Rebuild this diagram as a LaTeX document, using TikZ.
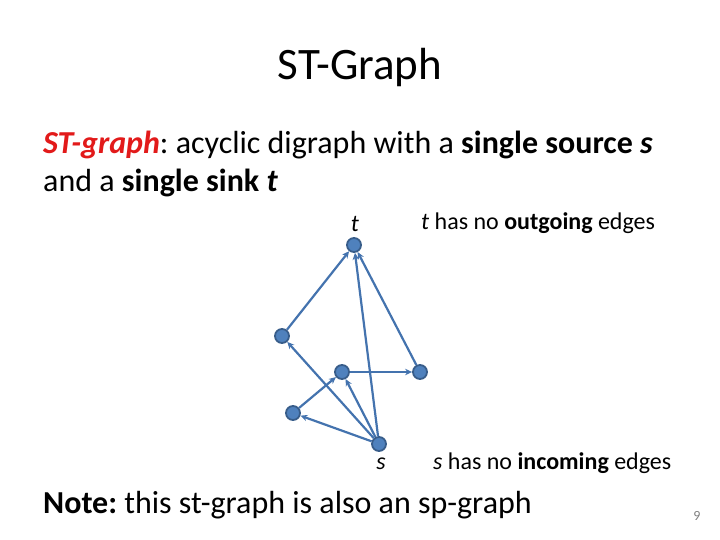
\documentclass[tikz,border=0pt]{standalone}
\usepackage{fontspec}
\setmainfont{Carlito}
\usetikzlibrary{arrows.meta}
\frenchspacing
\definecolor{nodefill}{HTML}{4F81BD}
\definecolor{nodedraw}{HTML}{385D8A}
\definecolor{edgecol}{HTML}{4473AE}
\definecolor{redtxt}{HTML}{E21A1A}
\tikzset{
  vtx/.style={circle,fill=nodefill,draw=nodedraw,line width=1.8pt,minimum size=14pt,inner sep=0pt},
  edg/.style={draw=edgecol,line width=2.2pt,-{Stealth[length=7pt,width=6.5pt]}},
  txt/.style={inner sep=0pt,anchor=west}
}
\begin{document}
\begin{tikzpicture}[x=1pt,y=-1pt]
\useasboundingbox (0,0) rectangle (720,540);
\node[inner sep=0pt] (title) at (360,68) {\fontsize{45}{54}\selectfont ST-Graph};
\node[txt] (l1) at (43,145) {\fontsize{32}{38}\selectfont\frenchspacing\textcolor{redtxt}{\textbf{\textit{ST-graph}}}: acyclic digraph with a \textbf{single source \textit{s}}};
\node[txt] (l2) at (43,183) {\fontsize{32}{38}\selectfont and a \textbf{single sink \textit{t}}};
\node[inner sep=0pt] (tl) at (355,224) {\fontsize{24}{28}\selectfont\textit{t}};
\node[txt] (tn) at (421,223) {\fontsize{24}{28}\selectfont\textit{t} has no \textbf{outgoing} edges};
\node[inner sep=0pt] (sl) at (381,464) {\fontsize{24}{28}\selectfont\textit{s}};
\node[txt] (sn) at (433,463) {\fontsize{24}{28}\selectfont\textit{s} has no \textbf{incoming} edges};
\node[txt] (note) at (43,505) {\fontsize{32}{38}\selectfont\frenchspacing\textbf{Note:} this st-graph is also an sp-graph};
\node[inner sep=0pt,text=gray] (pg) at (697,516) {\fontsize{14}{16}\selectfont 9};
\node[vtx] (t) at (354,245) {};
\node[vtx] (a) at (282,336) {};
\node[vtx] (b) at (342,372) {};
\node[vtx] (c) at (420,372) {};
\node[vtx] (d) at (293,413) {};
\node[vtx] (s) at (379,444) {};
\draw[edg] (a) -- (t);
\draw[edg] (s) -- (t);
\draw[edg] (c) -- (t);
\draw[edg] (s) -- (a);
\draw[edg] (s) -- (b);
\draw[edg] (s) -- (d);
\draw[edg] (d) -- (b);
\draw[edg] (b) -- (c);
\end{tikzpicture}
\end{document}
